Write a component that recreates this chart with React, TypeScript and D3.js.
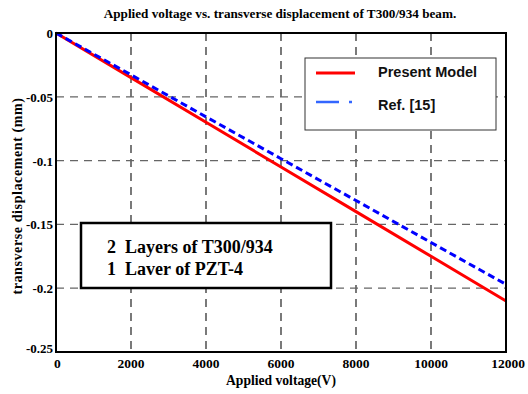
import React from "react";
import * as d3 from "d3";

const voltages = [0, 2000, 4000, 6000, 8000, 10000, 12000];
const presentModel = [0, -0.035, -0.07, -0.105, -0.14, -0.175, -0.21];
const ref15 = [0, -0.0328, -0.0657, -0.0985, -0.1313, -0.1642, -0.197];
const xTicks = [0, 2000, 4000, 6000, 8000, 10000, 12000];
const yTicks = [0, -0.05, -0.1, -0.15, -0.2, -0.25];

const W = 528, H = 394;
const L = 56, R = 506, T = 33, B = 352;

export default function App() {
  const x = d3.scaleLinear().domain([0, 12000]).range([L, R]);
  const y = d3.scaleLinear().domain([-0.25, 0]).range([B, T]);
  const line = d3.line<number>().x((_, i) => x(voltages[i])).y((d) => y(d));
  const serif = "'Liberation Serif', 'Times New Roman', serif";
  const sans = "'Liberation Sans', Arial, sans-serif";
  return (
    <svg width={W} height={H} style={{ position: "absolute", left: 0, top: 0, background: "#fff" }}>
      <rect x={0} y={0} width={W} height={H} fill="#fff" />
      <text x={280} y={18} textAnchor="middle" fontFamily={serif} fontWeight="bold" fontSize={13.2}>
        Applied voltage vs. transverse displacement of T300/934 beam.
      </text>
      {xTicks.slice(1, -1).map((t) => (
        <line key={"gx" + t} x1={x(t)} x2={x(t)} y1={T} y2={B} stroke="#222" strokeWidth={1.2} strokeDasharray="8,6" />
      ))}
      {yTicks.slice(1, -1).map((t) => (
        <line key={"gy" + t} x1={L} x2={R} y1={y(t)} y2={y(t)} stroke="#666" strokeWidth={1.2} strokeDasharray="8,6" />
      ))}
      <path d={line(presentModel) || ""} fill="none" stroke="#ff0000" strokeWidth={3} />
      <path d={line(ref15) || ""} fill="none" stroke="#0000ff" strokeWidth={3} strokeDasharray="7,4" />
      <rect x={L} y={T} width={R - L} height={B - T} fill="none" stroke="#000" strokeWidth={2} />
      {yTicks.map((t) => (
        <text key={"ty" + t} x={L - 3} y={t === -0.25 ? y(t) + 1 : y(t) + 5} textAnchor="end" fontFamily={serif} fontWeight="bold" fontSize={13}>
          {t === 0 ? "0" : String(t)}
        </text>
      ))}
      {xTicks.map((t) => (
        <text key={"tx" + t} x={x(t)} y={B + 16} textAnchor={t === 0 ? "start" : "middle"} dx={t === 0 ? -2 : t === 12000 ? 2 : 0} fontFamily={serif} fontWeight="bold" fontSize={13.5}>
          {String(t)}
        </text>
      ))}
      <text x={281} y={385} textAnchor="middle" fontFamily={serif} fontWeight="bold" fontSize={13.6}>
        Applied voltage(V)
      </text>
      <text transform={`translate(22,${196}) rotate(-90)`} textAnchor="middle" fontFamily={serif} fontWeight="bold" fontSize={14} letterSpacing={0.6}>
        transverse displacement (mm)
      </text>
      {/* legend */}
      <rect x={305} y={58} width={191} height={72} fill="#fff" stroke="#333" strokeWidth={1} />
      <line x1={316} x2={355} y1={73} y2={73} stroke="#ff0000" strokeWidth={3} />
      <line x1={316} x2={339} y1={102} y2={102} stroke="#3366ff" strokeWidth={2.5} />
      <line x1={349} x2={352} y1={102} y2={102} stroke="#3366ff" strokeWidth={2.5} />
      <text x={378} y={77} fontFamily={sans} fontWeight="bold" fontSize={14.5} fill="#111">Present Model</text>
      <text x={378} y={110} fontFamily={sans} fontWeight="bold" fontSize={14.5} fill="#111">Ref. [15]</text>
      {/* annotation */}
      <rect x={81} y={223} width={250} height={65} fill="#fff" stroke="#000" strokeWidth={2.5} />
      <text x={107} y={253} fontFamily={serif} fontWeight="bold" fontSize={18} style={{ whiteSpace: "pre" }} xmlSpace="preserve">2  Layers of T300/934</text>
      <text x={107} y={275} fontFamily={serif} fontWeight="bold" fontSize={18} style={{ whiteSpace: "pre" }} xmlSpace="preserve">1  Laver of PZT-4</text>
    </svg>
  );
}
